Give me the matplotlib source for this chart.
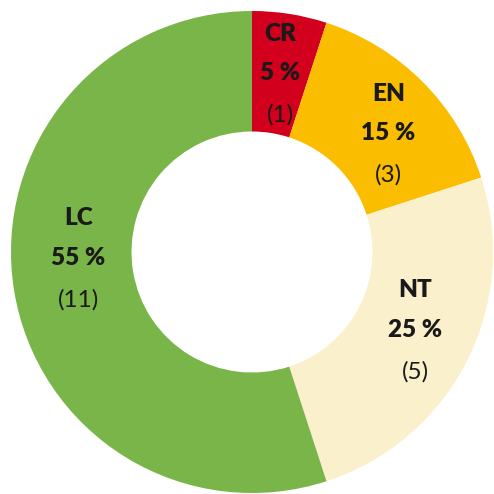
import numpy as np
import matplotlib.pyplot as plt

# Red list categories and number of species in each
categories = ['CR', 'EN', 'NT', 'LC']
counts = [1, 3, 5, 11]
percent_labels = ['5 %', '15 %', '25 %', '55 %']
colors = ['#d2001c', '#fbbd00', '#faf0cb', '#79b548']

# small angular nudges (degrees) so labels sit like the original
label_nudge = [0, -4, 1.5, -7]

plt.rcParams['font.family'] = ['Lato', 'DejaVu Sans']

fig = plt.figure(figsize=(4.94, 4.94), dpi=100)
R = 241 / 494
ax = fig.add_axes([(252 - 241) / 494, (494 - 252 - 241) / 494, 2 * R, 2 * R])

wedges, _ = ax.pie(counts, colors=colors, startangle=90, counterclock=False,
                   wedgeprops=dict(width=0.5, linewidth=0))
ax.set_xlim(-1, 1)
ax.set_ylim(-1, 1)
ax.set_aspect('equal')
ax.axis('off')

txt_color = '#1a1a1a'
fs = 17.5
for w, cat, pct, n, nudge in zip(wedges, categories, percent_labels, counts, label_nudge):
    ang = np.deg2rad((w.theta1 + w.theta2) / 2 + nudge)
    r = 0.75 if cat != 'LC' else 0.72
    x, y = r * np.cos(ang), r * np.sin(ang)
    ax.annotate(cat, (x, y), xytext=(0, 28.5), textcoords='offset points',
                ha='center', va='center', fontsize=fs, fontweight='heavy', color=txt_color)
    ax.annotate(pct, (x, y), xytext=(0, 0), textcoords='offset points',
                ha='center', va='center', fontsize=fs, fontweight='heavy', color=txt_color)
    ax.annotate('(%d)' % n, (x, y), xytext=(0, -30), textcoords='offset points',
                ha='center', va='center', fontsize=fs, color=txt_color)

fig.savefig('out.png', dpi=100)
